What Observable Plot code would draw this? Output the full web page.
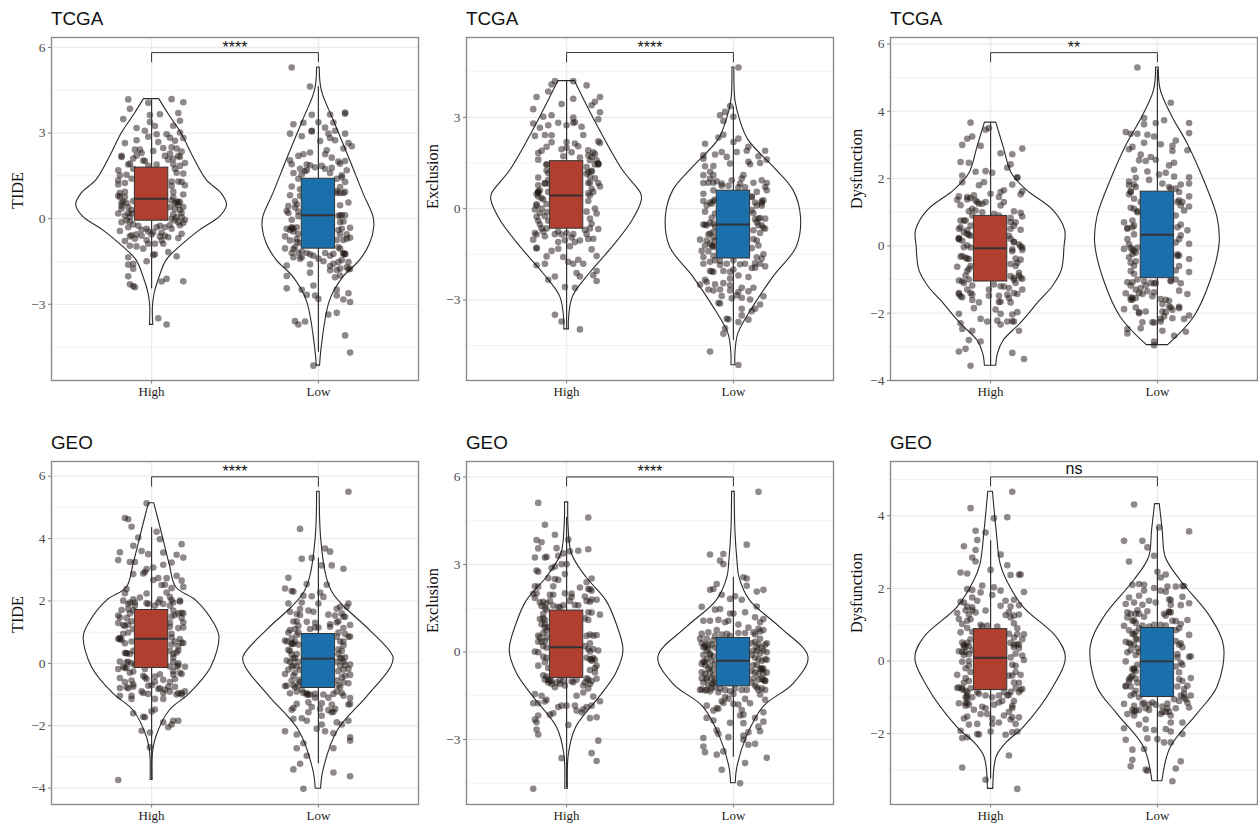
<!DOCTYPE html>
<html><head><meta charset="utf-8">
<style>
html,body{margin:0;padding:0;background:#fff;overflow:hidden}
#page{position:relative;width:1258px;height:829px}
.ttl{position:absolute;font:18.8px/20px "Liberation Sans",Arial,sans-serif;color:#111}
</style>
<script src="https://cdn.jsdelivr.net/npm/d3@7"></script>
<script src="https://cdn.jsdelivr.net/npm/@observablehq/plot@0.6"></script>
</head><body><div id="page"></div>
<script>
const groups = ["High", "Low"];
const fills = {High: "#b03f30", Low: "#1b6fab"};

// jittered points: [offset from the category, value]
const tideTcgaHigh = [[-.14,4.18],[-.13,3.85],[-.17,3.49],[.12,4.19],[.19,4.08],[-.02,4.06],[.16,3.7],[.17,3.43],[.05,3.66],[-.01,3.63],[-.01,3.39],[.02,3.25],[-.09,3.18],[-.04,3.08],[.13,3.26],[-.02,2.87],[.03,2.96],[.09,2.96],[.11,2.84],[.17,3.02],[.19,2.83],[-.09,2.75],[-.16,2.65],[.04,2.69],[.14,2.73],[-.1,2.42],[-.07,2.42],[.07,2.48],[.01,2.37],[.15,2.46],[.11,2.28],[-.18,2.16],[-.18,2.2],[-.09,2.21],[-.11,2.11],[-.04,2.02],[-.05,2.04],[-.13,1.93],[.1,2.07],[.13,1.91],[.17,2.16],[.2,1.95],[-.2,1.7],[-.15,1.54],[-.19,1.52],[-.2,1.35],[-.2,1.2],[.15,1.61],[.19,1.58],[.18,1.29],[.12,1.15],[.2,1.17],[-.19,.9],[-.16,.94],[-.19,.76],[-.16,.76],[-.18,.56],[.13,.94],[.19,.85],[.12,.64],[.15,.58],[.17,.58],[.16,.6],[.14,.35],[.19,.41],[-.14,.41],[-.18,.35],[-.2,.18],[-.12,.18],[-.15,-.06],[-.13,.06],[.12,0],[.15,.06],[.2,-.04],[.17,-.23],[.12,-.35],[.18,-.53],[-.19,-.43],[-.12,-.58],[-.13,-.62],[-.16,-.78],[-.06,-.39],[.01,-.47],[.06,-.49],[.16,-.68],[-.02,-.88],[.02,-.88],[.06,-.76],[-.09,-.97],[-.05,-1.05],[.07,-.88],[.1,-1.17],[-.14,-1.35],[-.03,-1.49],[.02,-1.25],[.01,-1.27],[.15,-1.32],[-.14,-1.61],[-.11,-1.58],[-.11,-1.75],[-.14,-2.02],[.09,-2.11],[.06,-2.2],[.19,-2.19],[-.13,-2.3],[-.1,-2.4],[-.11,-2.36],[.04,-3.49],[.09,-3.71],
 [-.17,.6],[-.15,.55],[-.18,.45],[-.14,.2],[-.16,.1],[-.13,-.1],[-.11,-.2],[-.18,-.12],[-.14,-.3],[-.2,.8],[-.11,.62],[-.12,.3],[-.12,1.4],[-.11,1.75],[-.14,1.9],[-.16,1.25],[.13,.75],[.14,.55],[.16,.48],[.17,.3],[.18,.2],[.11,.4],[.13,.15],[.16,-.12],[.14,-.05],[.18,.05],[.19,-.15],[.11,-.22],[.14,1.75],[.17,1.85],[.12,1.3],[.16,1.3],[.13,2.1],[.16,2.2],[.18,2.35],[.12,2.5],[-.08,-.25],[-.03,-.35],[-.02,-.45],[0,-.55],[.03,-.3],[.05,-.25],[.08,-.3],[-.09,-.55],[-.1,-.7],[.08,-.6],[.1,-.65],[-.06,-.6],[-.03,-.75],[.05,-.62],[-.13,-.95],[-.02,1.85],[.03,1.9],[.08,2.2],[-.06,2.3]];
const tideTcgaLow = [[-.16,5.3],[-.05,4.63],[-.04,3.64],[.16,3.72],[.16,3.68],[.07,3.65],[-.15,3.31],[-.09,3.36],[0,3.38],[.09,3.37],[.04,3.19],[-.04,3.08],[-.04,3.06],[.1,3.08],[-.17,2.98],[-.1,2.89],[.06,2.98],[.16,2.98],[.07,2.83],[.18,2.65],[.2,2.54],[.01,2.72],[.1,2.75],[.15,2.46],[.05,2.4],[.04,2.26],[-.12,2.2],[-.09,2.26],[-.05,2.32],[.08,2.14],[-.17,2.05],[.16,2.02],[.13,1.93],[-.16,1.91],[-.05,1.87],[.02,1.85],[.08,1.78],[-.15,1.6],[-.07,1.7],[-.08,1.67],[.14,1.52],[.16,1.29],[-.16,1.13],[.13,1.11],[-.11,1.03],[.11,.97],[.16,.94],[-.17,.82],[-.14,.61],[.18,.57],[.13,.47],[-.18,.44],[-.14,.39],[-.19,.27],[-.12,.09],[.16,.12],[.13,.12],[-.16,-.04],[.13,-.12],[-.19,-.35],[-.15,-.35],[-.16,-.33],[.19,-.32],[.14,-.35],[-.2,-.62],[-.12,-.53],[.19,-.67],[.17,-.7],[-.17,-.76],[-.13,-.82],[-.2,-1.04],[-.15,-1.06],[.13,-1.05],[-.1,-1.35],[-.05,-1.25],[.09,-1.23],[.16,-1.23],[.15,-1.24],[-.15,-1.35],[.03,-1.49],[.12,-1.52],[.18,-1.52],[-.19,-1.64],[-.05,-1.6],[.07,-1.66],[.09,-1.58],[.13,-1.75],[.19,-1.75],[.18,-1.78],[.07,-1.81],[-.05,-1.89],[.13,-1.99],[-.19,-2.01],[-.03,-2.34],[-.19,-2.44],[-.1,-2.49],[-.07,-2.67],[-.02,-2.69],[0,-2.81],[.11,-2.49],[.11,-2.69],[.18,-2.61],[.15,-2.83],[.19,-2.92],[.11,-3.3],[.06,-3.36],[-.14,-3.59],[-.12,-3.71],[-.08,-3.6],[.16,-4.09],[.19,-4.69],[-.03,-5.15],
 [-.18,.2],[-.16,-.3],[-.17,-.4],[-.15,-.45],[-.13,-.3],[-.12,.25],[-.13,.5],[-.11,.8],[-.12,1.4],[-.11,1.75],[-.13,-.7],[-.11,-.85],[-.14,-1],[-.16,-1.2],[-.12,-1.2],[-.11,-1.4],[-.1,-1.15],[.11,.9],[.13,.9],[.15,.9],[.12,.1],[.14,.12],[.15,-.1],[.12,-.4],[.13,-.55],[.15,-.75],[.17,-.55],[.11,-.75],[.12,-1],[.15,-1.2],[.16,-1.25],[.14,-1.45],[.17,-1.7],[.11,1.4],[.14,1.45],[.17,1.7],[.12,2],[.07,1.6],[.04,1.75],[-.02,1.8],[-.1,1.55],[-.07,1.9],[-.07,-1.2],[-.03,-1.3],[0,-1.4],[.04,-1.2],[.07,-1.3],[.11,-1.8],[.1,-2.05]];
const exclusionTcgaHigh = [[-.07,4.19],[.04,4.19],[-.09,4.08],[.12,4.05],[-.11,3.85],[-.18,3.67],[.2,3.67],[.04,3.61],[.17,3.51],[.15,3.4],[-.03,3.44],[-.2,3.27],[.2,3.17],[-.14,3.02],[-.09,3.07],[.04,2.99],[.19,2.94],[-.2,2.8],[.04,2.82],[.05,2.84],[-.05,2.82],[0,2.74],[-.11,2.74],[.09,2.69],[-.16,2.66],[-.19,2.39],[-.13,2.42],[-.09,2.41],[.1,2.42],[.19,2.21],[-.09,2.18],[0,2.19],[.2,2.16],[.05,2.14],[-.12,2.03],[0,2],[-.15,1.9],[-.17,1.83],[.13,1.92],[.17,1.79],[-.02,1.72],[.08,1.68],[-.17,1.61],[.14,1.59],[.18,1.59],[.19,1.48],[.19,1.45],[-.12,1.45],[.12,1.37],[.15,1.24],[.15,1.22],[-.11,1.17],[-.17,1.02],[.14,1.04],[.19,.84],[.2,.73],[-.13,.82],[-.13,.84],[-.17,.77],[.13,.84],[-.17,.55],[-.17,.52],[-.18,.48],[.14,.44],[.17,0],[-.19,-.03],[-.15,0],[-.18,.14],[.18,-.16],[.14,-.33],[-.18,-.27],[-.12,-.11],[-.16,-.52],[.19,-.67],[.14,-.65],[-.19,-.8],[.12,-.84],[-.07,-.84],[-.2,-1.02],[-.13,-.91],[.04,-.84],[.16,-.99],[-.01,-1.04],[-.18,-1.29],[-.18,-1.31],[.05,-1.1],[-.05,-1.32],[.02,-1.24],[.15,-1.34],[-.09,-1.39],[-.02,-1.59],[.18,-1.56],[-.12,-1.57],[.07,-1.68],[.01,-1.75],[-.13,-1.81],[-.18,-1.86],[.04,-1.81],[.1,-1.81],[.18,-2.05],[.06,-2.12],[.16,-2.19],[-.07,-2.23],[.08,-2.23],[-.11,-2.34],[.18,-2.38],[-.01,-2.58],[.05,-2.6],[-.07,-3.49],[-.03,-3.71],[.08,-3.97],
 [-.18,.1],[-.17,.55],[-.16,.6],[-.17,.4],[-.15,.35],[-.14,.3],[-.12,.15],[-.16,-.15],[-.13,-.25],[-.11,-.4],[-.17,-.4],[-.15,-.65],[-.12,-.65],[-.18,-.85],[-.14,-.75],[-.1,.8],[-.11,.95],[-.12,1.25],[-.12,1.45],[-.11,.55],[.13,.5],[.15,.65],[.14,.85],[.16,.55],[.17,1],[.12,1.15],[.13,1.2],[.17,1.45],[.19,1.47],[.15,1.7],[.13,1.75],[.16,1.85],[.13,.25],[.12,-.1],[.15,-.5],[.11,-.7],[.13,-1],[-.05,-.75],[-.03,-.85],[0,-.8],[.03,-.95],[-.05,-1.1],[.08,-1.05],[.03,1.85],[.07,2.05],[-.03,1.95]];
const exclusionTcgaLow = [[.03,4.64],[-.02,3.37],[-.05,3.18],[-.08,3.07],[0,3.02],[-.06,2.88],[-.06,2.43],[-.09,2.34],[.03,2.3],[0,2.19],[-.17,2.13],[.09,2.03],[.08,1.9],[-.07,1.86],[.02,1.86],[.19,1.9],[-.18,1.75],[-.11,1.78],[-.04,1.7],[.2,1.61],[.15,1.72],[-.18,1.64],[.09,1.54],[.1,1.46],[.16,1.5],[-.17,1.39],[-.12,1.4],[-.02,1.48],[-.14,1.21],[-.18,1.1],[-.12,1.1],[.06,1.1],[-.18,.84],[.05,.99],[.17,.93],[.2,.84],[-.14,.99],[-.07,.82],[-.01,.93],[.04,.82],[.19,.71],[.2,.6],[-.12,.6],[.14,.55],[-.18,.49],[.11,.38],[-.18,.25],[.18,.27],[.17,.25],[-.13,.16],[.17,.19],[.11,-.05],[-.11,-.16],[.16,-.31],[.15,-.33],[.19,-.33],[-.18,-.52],[-.17,-.53],[-.14,-.47],[.19,-.66],[.18,-.63],[.16,-.8],[-.12,-.77],[-.14,-.82],[-.2,-1.02],[.12,-.71],[-.13,-1.21],[-.12,-1.23],[-.17,-1.21],[-.12,-1.26],[-.19,-1.39],[.15,-1.21],[-.18,-1.59],[.18,-1.5],[.17,-1.64],[-.18,-1.81],[-.08,-1.72],[-.04,-1.81],[0,-1.7],[.04,-1.83],[.07,-1.81],[.19,-1.9],[.13,-1.94],[.16,-1.81],[-.14,-2.05],[-.12,-2.08],[-.13,-2.06],[-.02,-2.08],[-.02,-2.3],[-.17,-2.34],[-.2,-2.5],[-.16,-2.41],[-.11,-2.49],[-.02,-2.52],[.12,-2.6],[-.15,-2.66],[-.12,-2.69],[-.08,-2.66],[-.02,-2.69],[.03,-2.74],[.09,-2.72],[-.07,-2.87],[.05,-2.93],[.18,-2.88],[.1,-2.99],[-.09,-3.1],[-.08,-3.12],[.16,-3.15],[.13,-3.29],[.11,-3.37],[.05,-3.29],[-.04,-3.62],[-.03,-3.64],[.05,-3.51],[.09,-3.65],[.03,-3.73],[-.05,-3.93],[-.06,-4.11],[-.14,-4.7],[.03,-5.14],
 [-.16,.1],[-.14,.2],[-.12,.25],[-.17,-.1],[-.13,-.3],[-.16,-.55],[-.12,-.5],[-.11,-.6],[-.15,-.85],[-.12,-.95],[-.16,-1.05],[-.14,-1.15],[-.11,-1.05],[-.15,-1.4],[-.12,-1.55],[-.14,-1.75],[-.11,-1.7],[-.12,.85],[-.1,.9],[-.11,.3],[-.15,.85],[.11,.4],[.13,.2],[.14,.1],[.17,.1],[.12,-.15],[.13,-.35],[.14,-.45],[.15,-.55],[.17,-.55],[.12,-1],[.14,-1.05],[.11,-1.3],[.14,-1.6],[.13,-1.8],[.11,-1.95],[.09,-2.25],[.12,.85],[-.07,.75],[-.03,.75],[.03,.7],[.07,.7],[-.08,-1.85],[-.06,-2.05],[0,-2],[.03,-2.2],[-.06,-2.45],[.05,-2.6],[.02,-2.85],[-.01,-2.95]];
const dysfunctionTcgaHigh = [[-.12,3.66],[-.14,3.18],[-.11,3.25],[-.03,3.45],[-.01,3.5],[-.17,3],[-.06,2.97],[.19,2.89],[.06,2.75],[.13,2.72],[-.18,2.49],[-.13,2.47],[.12,2.42],[.1,2.32],[-.17,2.09],[-.09,2.2],[-.03,2.22],[.01,2.17],[.16,2.04],[.16,2.02],[-.17,1.89],[-.04,1.89],[-.07,1.8],[.13,1.82],[.08,1.65],[.06,1.6],[.19,1.62],[.18,1.53],[0,1.55],[-.1,1.5],[-.14,1.45],[-.19,1.47],[-.2,1.37],[-.09,1.35],[.05,1.45],[-.18,1.21],[-.03,1.3],[-.07,1.25],[.06,1.2],[-.13,1.03],[-.09,1.05],[.14,1.03],[.18,.98],[.19,.87],[-.18,.75],[-.16,.75],[.12,.83],[.15,.7],[-.19,.51],[-.14,.46],[-.13,.33],[.18,.48],[.12,.51],[-.19,.21],[-.19,.23],[.12,.21],[.14,.11],[-.16,-.04],[.18,-.01],[.19,-.12],[.13,-.16],[-.18,-.32],[-.13,-.39],[-.14,-.38],[.18,-.41],[-.2,-.62],[.12,-.54],[.15,-.6],[-.13,-.68],[-.15,-.88],[.17,-.88],[.19,-.98],[-.19,-1.03],[-.17,-1.05],[-.11,-1.18],[.14,-1.01],[.08,-1.21],[.19,-1.3],[.16,-1.43],[-.19,-1.43],[-.11,-1.45],[-.01,-1.48],[.05,-1.48],[-.17,-1.53],[.11,-1.55],[-.11,-1.61],[.06,-1.66],[.05,-1.67],[-.07,-1.68],[.12,-1.68],[-.1,-1.85],[.03,-1.89],[.16,-1.97],[-.19,-2.02],[.13,-2.04],[.06,-2.02],[-.06,-2.17],[.04,-2.22],[-.02,-2.25],[-.18,-2.3],[.1,-2.25],[.14,-2.25],[.13,-2.24],[.06,-2.34],[-.17,-2.47],[-.11,-2.52],[.17,-2.52],[-.13,-2.8],[-.06,-2.84],[-.15,-3.06],[-.19,-3.14],[.13,-3.18],[.2,-3.36],[-.12,-3.56],
 [-.18,.55],[-.16,.4],[-.14,.35],[-.12,.3],[-.19,.2],[-.17,.15],[-.15,.75],[-.14,.02],[-.12,-.05],[-.17,-.3],[-.15,-.35],[-.12,-.6],[-.14,-.75],[-.13,-1],[-.16,-1.1],[-.19,-1.4],[-.18,-1.5],[-.14,-1.3],[-.12,-1.4],[-.11,.9],[-.12,.6],[-.14,1.38],[-.12,1.42],[-.08,1.3],[-.05,1.25],[-.11,1.1],[.12,.7],[.14,.6],[.11,.3],[.14,.12],[.17,.05],[.19,-.05],[.13,-.1],[.15,-.38],[.16,-.5],[.17,-.8],[.12,-.9],[.14,-.95],[.18,-.95],[.11,-1.25],[.15,-1.1],[.1,-1.45],[.14,-1.4],[.02,.95],[.05,.9],[-.05,1],[.06,-1.2],[.02,-1.15],[-.01,-1.3],[.08,1.3]];
const dysfunctionTcgaLow = [[-.12,5.3],[.08,4.25],[-.08,3.8],[-.01,3.65],[.04,3.73],[.19,3.65],[-.08,3.61],[-.19,3.38],[-.16,3.33],[-.12,3.33],[.19,3.35],[-.06,3.3],[-.02,3.25],[.11,3.13],[-.08,3.06],[.02,3.02],[.09,2.97],[-.15,2.94],[-.17,2.87],[.18,2.84],[.09,2.82],[-.1,2.71],[-.04,2.64],[-.01,2.56],[-.11,2.54],[-.07,2.52],[.1,2.47],[.07,2.39],[-.14,2.26],[-.06,2.21],[.01,2.12],[.05,2.17],[.19,2.04],[-.13,2.02],[.1,2.06],[-.17,1.91],[-.05,1.96],[.03,1.85],[.19,1.85],[-.14,1.82],[.07,1.75],[.14,1.82],[-.16,1.62],[-.17,1.53],[.19,1.47],[.13,1.35],[.14,1.2],[-.16,1.13],[.19,1.17],[-.12,1.03],[.16,1.05],[-.15,.75],[-.2,.7],[.14,.63],[-.18,.51],[-.18,.53],[.18,.46],[-.14,.34],[.14,.31],[.19,.06],[-.2,-.09],[-.16,-.06],[-.15,-.24],[-.17,-.34],[.13,-.29],[.12,-.3],[.19,-.39],[-.13,-.46],[-.14,-.59],[.11,-.73],[.19,-.78],[-.14,-.83],[.08,-1.03],[-.18,-1.08],[-.15,-1.08],[.14,-1.11],[-.01,-1.1],[-.02,-1.12],[-.07,-1.18],[-.16,-1.18],[-.02,-1.38],[-.19,-1.41],[-.09,-1.43],[.18,-1.43],[.13,-1.33],[-.16,-1.53],[-.15,-1.55],[.02,-1.58],[.07,-1.63],[.08,-1.83],[.03,-1.73],[-.2,-1.88],[-.13,-1.83],[.13,-1.81],[-.11,-1.97],[.05,-1.97],[.19,-2.07],[.02,-2.17],[.09,-2.15],[-.09,-2.27],[-.03,-2.27],[-.02,-2.28],[.16,-2.17],[-.18,-2.47],[.03,-2.52],[-.18,-2.6],[.17,-2.55],[-.1,-2.45],[.1,-2.67],[-.02,-2.84],[-.02,-2.95],
 [-.18,.2],[-.15,.55],[-.14,.6],[-.17,.05],[-.15,-.1],[-.13,-.2],[-.16,-.5],[-.12,-.05],[-.14,-.15],[-.16,-.75],[-.12,-1],[-.11,-1.4],[-.13,-1.3],[-.16,-1.6],[-.15,-1.6],[-.13,-1.55],[-.14,1.4],[-.16,1.6],[-.17,1.8],[-.13,1.75],[-.14,1.1],[-.12,1],[-.1,1.3],[.11,1.7],[.08,1.7],[.13,1.6],[.12,1.3],[.15,1.3],[.11,.9],[.12,.55],[.13,.2],[.11,.1],[.12,-.25],[.13,-.6],[.11,-1],[.08,-1.05],[.05,-1.6],[.07,-1.8],[.03,-1.95],[.09,-1.9],[.02,-2.25],[.04,-2.1],[.13,-1.85],[-.08,-1.05],[-.04,-1.1],[-.1,-1.25],[-.06,-1.35],[-.03,-1.5],[-.07,-1.95],[-.11,-2]];
const tideGeoHigh = [[-.03,5.13],[-.16,4.66],[-.14,4.62],[-.12,4.38],[.03,4.22],[-.08,4.03],[.05,3.98],[-.11,3.77],[.18,3.82],[-.06,3.6],[-.19,3.56],[-.02,3.5],[.07,3.55],[.15,3.48],[.19,3.39],[-.2,3.31],[-.13,3.25],[-.1,3.25],[.12,3.23],[.07,3.16],[.01,3.07],[-.03,3.02],[-.11,2.86],[-.05,2.88],[-.04,2.93],[.04,2.73],[.09,2.73],[.15,2.81],[.01,2.67],[.18,2.65],[.06,2.51],[.08,2.52],[.12,2.41],[.19,2.45],[-.15,2.38],[-.16,2.25],[.09,2.27],[-.03,2.24],[-.07,2.11],[.11,2.13],[.12,2.03],[.17,2.01],[.17,1.98],[-.17,2.01],[-.13,1.95],[-.1,1.95],[-.03,1.93],[.04,1.95],[-.14,1.74],[-.18,1.71],[.13,1.69],[.19,1.6],[.18,1.62],[-.2,1.53],[-.19,1.47],[.18,1.45],[.19,1.31],[-.2,1.29],[-.17,1.23],[-.14,1.24],[.16,1.13],[.19,1.15],[.11,1.17],[-.14,.99],[-.2,.78],[-.19,.8],[.12,.83],[.17,.78],[-.16,.64],[.19,.65],[.18,.66],[.16,.41],[-.15,.32],[-.16,.33],[.13,.19],[-.19,.06],[-.15,.03],[.16,-.07],[-.17,-.11],[.2,-.11],[-.2,-.18],[-.16,-.15],[-.04,-.18],[-.11,-.26],[.18,-.34],[.13,-.36],[-.19,-.47],[-.04,-.45],[.02,-.42],[.07,-.53],[-.11,-.68],[-.15,-.77],[-.19,-.79],[.04,-.82],[.2,-.9],[.18,-.95],[-.06,-.9],[.11,-.9],[-.02,-.98],[.15,-1],[.18,-1],[-.12,-1.04],[-.19,-1.04],[.07,-1.14],[-.12,-1.14],[.02,-1.14],[.02,-1.48],[0,-1.54],[-.11,-1.6],[-.05,-1.71],[-.04,-1.73],[.16,-1.84],[.13,-1.84],[.07,-1.89],[.12,-1.96],[.1,-2.05],[-.06,-2.16],[-.01,-2.22],[-.01,-2.69],[-.2,-3.74],
 [-.19,.8],[-.18,.75],[-.17,.95],[-.16,1.2],[-.15,1.45],[-.13,1.6],[-.12,1.35],[-.11,1.1],[-.13,.3],[-.15,.33],[-.14,.05],[-.12,0],[-.11,.4],[-.12,.7],[-.15,-.15],[-.13,-.3],[-.1,-.05],[-.12,-.55],[-.11,-.75],[-.14,-.8],[-.16,-.6],[-.11,1.7],[-.1,1.85],[-.14,1.9],[-.11,2.05],[.11,1.85],[.13,1.95],[.12,1.5],[.14,1.55],[.16,1.6],[.11,1.3],[.12,.95],[.14,.7],[.12,.6],[.16,.55],[.15,.35],[.11,.4],[.13,.3],[.13,.05],[.16,0],[.11,-.1],[.15,-.1],[.13,-.25],[.17,-.3],[.14,-.5],[.11,-.6],[.1,-.75],[.08,-.85],[.14,-.75],[.16,-.95],[-.05,-.4],[-.03,-.5],[-.02,-.72],[.02,-.6],[.05,-.35],[.05,-.8],[.07,-.95],[-.05,-.95],[0,-.7],[-.02,1.9],[.02,1.85],[.05,2.05],[.07,1.9]];
const tideGeoLow = [[.18,5.5],[-.11,4.31],[.04,3.68],[.07,3.58],[-.1,3.35],[-.04,3.38],[.02,3.14],[.08,3.14],[.15,3.03],[-.18,2.74],[-.2,2.4],[-.07,2.54],[.05,2.52],[-.16,2.32],[-.15,2.3],[.01,2.27],[-.09,2.17],[-.04,2.15],[.03,2.13],[-.1,1.95],[0,1.92],[-.18,1.92],[.18,1.92],[.13,1.81],[.17,1.81],[-.17,1.65],[-.11,1.74],[-.06,1.69],[-.03,1.65],[.1,1.53],[.06,1.56],[.16,1.49],[.15,1.5],[-.13,1.58],[-.15,1.34],[-.07,1.33],[.07,1.17],[.19,1.23],[.11,1.31],[-.02,1.15],[-.17,1.07],[-.14,1.1],[-.12,.99],[.15,1.13],[.12,.99],[.19,.86],[.18,.85],[-.18,.99],[.16,.94],[-.16,.64],[-.2,.73],[-.16,.62],[.15,.57],[-.18,.43],[.13,.17],[.16,.19],[-.19,.09],[-.14,.17],[.19,-.04],[-.15,-.07],[.13,-.07],[.18,-.18],[-.2,-.34],[.19,-.37],[-.15,-.39],[-.12,-.53],[-.19,-.72],[-.2,-.73],[.15,-.61],[.18,-.64],[-.14,-.77],[.13,-.77],[-.17,-.96],[-.07,-1],[-.06,-1.01],[.09,-.98],[.15,-1.04],[-.02,-.98],[.19,-1.11],[.19,-1.3],[.18,-1.32],[-.06,-1.25],[-.13,-1.3],[.02,-1.28],[.08,-1.32],[-.15,-1.43],[.01,-1.46],[.1,-1.46],[-.16,-1.49],[-.06,-1.57],[.08,-1.57],[-.15,-1.78],[-.1,-1.76],[-.07,-1.84],[.02,-1.68],[.11,-1.89],[.18,-1.84],[.14,-1.96],[.02,-1.96],[-.01,-2.1],[-.2,-2.18],[.04,-2.18],[.09,-2.24],[-.13,-2.28],[.19,-2.37],[.19,-2.48],[-.09,-2.56],[-.13,-2.72],[.09,-2.72],[-.07,-2.96],[-.11,-3.22],[-.15,-3.4],[.09,-3.5],[.19,-3.62],[-.09,-4.02],
 [-.19,.7],[-.16,.8],[-.15,.62],[-.14,.7],[-.13,.9],[-.12,.6],[-.17,.4],[-.16,.28],[-.13,.3],[-.15,.15],[-.17,.05],[-.12,.05],[-.16,-.1],[-.13,-.1],[-.18,-.2],[-.14,-.3],[-.11,-.2],[-.16,-.55],[-.15,-.7],[-.12,-.7],[-.11,-.6],[-.13,-.9],[-.1,-.85],[-.12,1.2],[-.11,1.55],[-.13,1.35],[.11,.85],[.13,.7],[.15,.7],[.12,.45],[.14,.4],[.12,.3],[.14,.15],[.11,.05],[.15,.05],[.16,-.05],[.12,-.25],[.15,-.2],[.14,-.45],[.16,-.4],[.11,-.55],[.12,-.7],[.14,-.95],[.11,-.9],[.12,1.35],[.14,1.6],[.11,1.75],[-.09,-.95],[-.07,-.95],[-.05,-1],[-.02,-1.1],[.03,-1],[.06,-1.1],[.06,-1.5],[.09,-1.55],[-.04,-1.4],[.07,1.25],[-.02,1.3],[-.05,1.1],[0,1.15]];
const exclusionGeoHigh = [[-.17,5.11],[.13,4.61],[-.13,4.36],[-.07,4.02],[-.18,3.84],[-.15,3.76],[.01,3.85],[-.17,3.55],[-.06,3.56],[.13,3.52],[.02,3.45],[.07,3.47],[-.02,3.38],[-.05,3.3],[-.19,3.24],[-.13,3.24],[-.12,3.26],[-.03,3.01],[0,3.01],[-.07,2.93],[-.09,2.88],[-.18,2.79],[-.17,2.75],[-.01,2.67],[-.07,2.5],[-.05,2.47],[.15,2.52],[-.11,2.53],[.12,2.39],[-.08,2.25],[-.19,2.25],[-.17,2.24],[.08,2.21],[-.2,1.99],[.13,2.16],[.15,2.1],[-.18,2.01],[-.01,2.01],[-.08,1.96],[-.1,1.96],[.03,1.89],[-.19,1.85],[.18,1.79],[.14,1.72],[-.14,1.72],[-.12,1.67],[-.08,1.59],[.05,1.61],[-.15,1.58],[-.04,1.53],[-.13,1.51],[-.14,1.3],[.2,1.28],[.13,1.36],[-.16,1.13],[-.13,.84],[-.12,.73],[-.17,.56],[.18,.58],[.16,.56],[-.13,.37],[.14,.3],[-.19,.01],[-.17,-.01],[.19,.05],[.14,.02],[-.14,-.16],[.16,-.21],[.17,-.27],[.15,-.25],[-.17,-.47],[.14,-.62],[.18,-.47],[.17,-.7],[.18,-.92],[-.12,-.84],[-.1,-.98],[-.09,-1.1],[-.04,-1.1],[.04,-1.04],[.1,-1.15],[-.07,-1.21],[-.01,-1.15],[.1,-1.39],[-.19,-1.44],[-.15,-1.5],[.06,-1.5],[.16,-1.53],[-.12,-1.64],[-.2,-1.76],[-.17,-1.76],[-.13,-1.7],[.2,-1.69],[-.03,-1.84],[0,-1.84],[.05,-1.84],[-.05,-1.89],[.15,-1.84],[.12,-1.89],[.1,-1.97],[.06,-2.01],[.09,-2.07],[-.08,-2.1],[-.1,-2.15],[-.17,-2.18],[-.19,-2.32],[.14,-2.27],[.18,-2.24],[-.18,-2.41],[.01,-2.5],[-.18,-2.66],[-.17,-2.83],[.19,-3.04],[.15,-3.47],[-.03,-3.64],[.18,-3.74],[-.2,-4.69],
 [-.16,.5],[-.15,.35],[-.13,.95],[-.13,1.1],[-.15,.95],[-.14,.65],[-.12,.5],[-.14,.2],[-.12,.15],[-.12,-.2],[-.11,.85],[-.12,1.45],[-.1,1.75],[-.16,1.7],[-.14,-.8],[-.13,-.95],[-.11,-.95],[-.11,-1.05],[-.09,-1],[-.14,1.15],[-.17,.35],[-.13,-.35],[-.11,-.55],[.12,.55],[.14,.6],[.11,.2],[.13,.1],[.16,.1],[.12,-.2],[.15,-.3],[.14,-.25],[.17,-.55],[.13,-.95],[.15,-1],[.12,-.9],[.11,-1.05],[.14,-1.1],[.13,-1.25],[.11,1.15],[.13,1.1],[.15,1.35],[.12,1.75],[.15,1.8],[.14,2.15],[.11,1.9],[-.06,-1.05],[-.04,-.95],[-.02,-1],[.03,-1],[.06,-.95],[-.05,1.55],[-.02,1.6],[.02,1.75],[.07,1.6],[.03,2]];
const exclusionGeoLow = [[.15,5.49],[.08,3.68],[-.14,3.34],[-.06,3.36],[-.08,3.13],[-.06,3.01],[.06,2.56],[.08,2.52],[-.1,2.33],[.08,2.27],[-.14,2.13],[-.12,2.16],[.18,2.13],[.14,2.07],[-.07,1.96],[-.02,1.82],[.01,1.91],[.05,1.79],[-.19,1.55],[-.11,1.45],[-.08,1.47],[.14,1.56],[.07,1.36],[-.02,1.32],[0,1.32],[.13,1.19],[.18,1.13],[-.18,1.07],[-.14,1.07],[-.09,1.1],[-.05,1.02],[-.03,1.07],[.16,1.02],[.03,.94],[.09,.84],[.15,.79],[-.1,.75],[-.15,.67],[-.19,.62],[-.04,.62],[.12,.67],[-.2,.45],[-.16,.45],[.16,.45],[.2,.3],[-.15,.25],[-.18,.16],[-.17,.18],[.14,.16],[.2,-.01],[-.14,-.07],[-.17,-.35],[-.18,-.33],[.2,-.27],[-.19,-.7],[-.15,-.58],[.16,-.58],[.18,-.58],[.17,-.6],[-.16,-.89],[.19,-.98],[.17,-.92],[.18,-.96],[-.2,-1.3],[-.17,-1.32],[-.19,-1.28],[-.13,-1.1],[-.14,-1.35],[.14,-1.21],[.16,-1.46],[-.09,-1.38],[-.05,-1.55],[0,-1.44],[.19,-1.64],[.07,-1.61],[.1,-1.76],[-.07,-1.69],[0,-1.78],[-.16,-1.84],[-.1,-1.92],[.05,-1.99],[-.12,-2.01],[.18,-2.07],[.04,-2.18],[.06,-2.15],[-.16,-2.26],[.13,-2.26],[-.02,-2.43],[.06,-2.44],[-.12,-2.35],[.18,-2.39],[.15,-2.56],[-.1,-2.69],[.16,-2.72],[.09,-2.75],[.06,-2.87],[-.03,-2.92],[-.18,-2.95],[-.09,-2.81],[.06,-3.01],[.13,-3.15],[-.18,-3.24],[.09,-3.18],[-.17,-3.44],[-.1,-3.52],[-.06,-3.41],[.2,-3.63],[.07,-3.81],[-.07,-4.04],[.04,-4.5],
 [-.19,.3],[-.17,.25],[-.15,.1],[-.13,.25],[-.12,.4],[-.16,.05],[-.18,-.1],[-.14,-.1],[-.11,.15],[-.16,-.25],[-.13,-.3],[-.12,-.15],[-.19,-.4],[-.17,-.45],[-.11,-.4],[-.14,-.5],[-.12,-.6],[-.17,-.75],[-.14,-.7],[-.12,-.8],[-.19,-.9],[-.16,-.95],[-.13,-.9],[-.11,-1],[-.18,-1.05],[-.15,-1.15],[-.12,-1.05],[-.16,-1.3],[-.13,-1.25],[-.11,-1.2],[-.11,.55],[.11,.3],[.13,.35],[.15,.25],[.17,.15],[.19,.25],[.12,.05],[.14,.03],[.16,-.05],[.18,.05],[.11,-.1],[.13,-.2],[.15,-.25],[.17,-.3],[.19,-.25],[.12,-.45],[.14,-.45],[.17,-.55],[.11,-.65],[.13,-.7],[.15,-.75],[.18,-.75],[.2,-.7],[.12,-.9],[.15,-.95],[.19,-1],[.11,-1.05],[.13,-1.15],[.17,-1.25],[.19,-1.3],[.15,-1.3],[.13,.6],[.16,.7],[.18,.75],[-.08,-1.25],[-.05,-1.3],[-.02,-1.35],[.01,-1.25],[.05,-1.3],[.08,-1.3],[-.07,.6],[-.02,.55],[.03,.65],[.07,.65],[-.06,-1.75],[-.03,-1.6],[.03,-1.8],[-.09,-1.95]];
const dysfunctionGeoHigh = [[.13,4.66],[-.12,4.21],[.02,3.93],[.1,3.96],[-.09,3.59],[-.03,3.54],[-.08,3.33],[-.16,3.16],[-.09,3.06],[.06,2.93],[-.11,2.85],[-.09,2.74],[.1,2.64],[0,2.51],[-.18,2.44],[-.14,2.41],[.12,2.37],[.17,2.38],[.18,2.38],[-.05,2.08],[.02,2.03],[.06,1.94],[-.14,1.98],[-.11,1.96],[.2,1.9],[-.06,1.89],[.01,1.82],[-.16,1.61],[-.18,1.63],[.14,1.69],[.09,1.66],[-.08,1.66],[-.11,1.75],[.17,1.54],[.06,1.52],[-.03,1.39],[-.11,1.48],[-.09,1.34],[-.2,1.32],[-.13,1.28],[.09,1.27],[.12,1.2],[.17,1.28],[-.19,1.16],[-.14,1.11],[-.17,1.02],[-.14,.91],[.14,1.04],[-.06,1],[.16,.74],[.2,.74],[-.18,.79],[.14,.65],[-.17,.51],[-.15,.39],[-.16,.4],[.16,.47],[.17,.45],[-.19,.27],[.14,.38],[-.13,.19],[.19,.15],[.2,.03],[-.16,.17],[-.17,-.02],[.15,-.13],[-.13,-.13],[-.2,-.38],[.18,-.38],[-.15,-.47],[-.2,-.74],[-.19,-.72],[.14,-.59],[-.17,-.75],[.19,-.77],[.18,-.79],[-.14,-.86],[.17,-.86],[-.15,-1],[-.14,-1.02],[-.08,-.86],[.08,-.86],[-.14,-1.14],[-.15,-1.16],[-.19,-1.16],[.05,-1.14],[.11,-.93],[.13,-1.23],[-.15,-1.23],[.13,-1.29],[-.05,-1.26],[-.1,-1.34],[-.02,-1.46],[-.06,-1.46],[.08,-1.5],[-.14,-1.53],[-.16,-1.58],[.17,-1.55],[.01,-1.58],[.12,-1.61],[-.08,-1.73],[-.13,-1.75],[.05,-1.69],[.01,-1.73],[.15,-1.73],[0,-1.94],[-.18,-1.92],[.16,-1.94],[.13,-1.96],[-.08,-2.01],[-.07,-2.02],[.09,-2.03],[-.17,-2.12],[-.14,-2.1],[.11,-2.6],[-.17,-2.93],[-.03,-3.27],[.16,-3.52],
 [-.16,.45],[-.14,.5],[-.13,.42],[-.17,.25],[-.15,.25],[-.12,.6],[-.11,.3],[-.13,0],[-.15,-.2],[-.12,-.3],[-.16,-.6],[-.13,-.55],[-.17,-.78],[-.15,-.82],[-.12,-.75],[-.14,-.95],[-.13,-1.2],[-.11,-1],[-.11,.8],[-.12,1.15],[-.11,1.4],[-.14,1.5],[-.15,1.4],[.11,.75],[.12,.5],[.14,.45],[.17,.35],[.15,.2],[.12,.1],[.13,-.1],[.15,-.3],[.11,-.4],[.13,-.4],[.17,-.6],[.15,-.75],[.12,-.85],[.1,-.95],[.14,-1.1],[.11,-1.4],[.13,-1.55],[.14,1.25],[.12,1.5],[.11,1.35],[.16,.9],[.19,.6],[-.07,-.9],[-.03,-.95],[.01,-1],[.05,-.95],[-.05,.95],[-.02,.98],[.04,.95],[-.03,-1.3],[.02,-1.2],[.07,-1.1]];
const dysfunctionGeoLow = [[-.14,4.31],[.01,3.68],[.19,3.57],[-.2,3.31],[-.09,3.31],[-.06,3.13],[-.02,2.9],[-.17,2.74],[0,2.46],[.02,2.3],[.05,2.38],[-.15,2.1],[-.11,2.12],[-.08,2.1],[-.02,2.01],[.11,2.05],[.15,2.07],[.16,2.06],[-.08,1.94],[.02,1.94],[.05,1.91],[-.17,1.75],[.15,1.77],[-.14,1.61],[-.05,1.66],[-.01,1.61],[.08,1.68],[.19,1.59],[.14,1.54],[-.19,1.57],[-.09,1.55],[-.12,1.4],[-.18,1.34],[-.06,1.37],[.07,1.36],[.08,1.34],[-.18,1.2],[-.08,1.22],[.05,1.25],[.18,1.13],[-.15,1.11],[-.14,1.12],[.09,1.11],[-.2,.97],[.14,1.02],[-.17,.85],[.19,.72],[-.14,.74],[-.13,.61],[-.12,.6],[.14,.49],[-.19,.53],[.15,.38],[-.16,.47],[-.18,.24],[-.13,.17],[.2,.13],[.19,.12],[.12,.19],[-.19,-.01],[.15,-.1],[-.15,-.22],[-.14,-.24],[.13,-.31],[-.16,-.45],[.2,-.47],[-.19,-.68],[-.17,-.56],[.18,-.68],[-.13,-.82],[.16,-.77],[-.16,-.95],[.2,-.95],[.16,-1],[.1,-1.05],[-.2,-1.18],[-.09,-1.18],[-.14,-1.23],[-.03,-1.14],[.06,-1.17],[.19,-1.28],[-.05,-1.35],[-.18,-1.46],[-.13,-1.37],[-.14,-1.39],[.02,-1.46],[.08,-1.5],[-.07,-1.61],[-.11,-1.75],[.08,-1.69],[.15,-1.69],[-.2,-1.85],[-.07,-1.87],[-.02,-1.9],[.05,-1.87],[.08,-1.94],[.15,-2.01],[-.06,-2.13],[-.19,-2.17],[0,-2.15],[.04,-2.24],[.08,-2.24],[-.15,-2.44],[-.08,-2.42],[-.15,-2.72],[.14,-2.76],[-.16,-2.9],[.11,-2.96],[-.07,-2.99],[-.06,-3.02],[.09,-3.31],
 [-.15,.75],[-.13,.8],[-.17,.5],[-.14,.45],[-.12,.35],[-.16,.3],[-.12,-.1],[-.14,-.2],[-.13,-.28],[-.15,-.4],[-.17,-.5],[-.13,-.48],[-.19,-.7],[-.16,-.7],[-.12,-.6],[-.14,-.9],[-.11,-1],[-.15,-1.35],[-.14,-1.5],[-.11,-1.35],[-.11,.25],[-.11,1.3],[-.13,1.05],[-.11,.9],[-.16,1.3],[-.11,1.8],[-.13,1.3],[.11,.85],[.13,.9],[.11,.55],[.13,.45],[.12,.1],[.14,-.05],[.11,-.15],[.13,-.5],[.15,-.55],[.12,-.7],[.14,-.95],[.16,-.9],[.17,-1.05],[.18,-1.15],[.13,-1.1],[.11,-1.3],[.07,-1.4],[.05,-1.4],[.11,1.1],[.08,1.55],[.07,1.7],[.04,1.3],[.07,1.35],[.06,2.05],[-.09,.98],[-.05,.95],[-.02,1],[.02,1],[.05,.98],[-.08,-1.15],[-.05,-1.2],[-.01,-1.2],[.03,-1.25],[-.07,-1.3],[.06,-1.3],[.03,-1.4]];

// violin outlines: [value, half width in category units], top to bottom
const tideTcgaHighViolin = [[4.19,.046],[3.68,.1],[2.98,.18],[2.16,.25],[1.35,.33],[.88,.42],[.47,.452],[.06,.41],[-.41,.29],[-.99,.17],[-1.46,.09],[-2.05,.048],[-2.63,.018],[-3.1,.008],[-3.72,.01]];
const tideTcgaLowViolin = [[5.3,.008],[4.5,.02],[3.33,.1],[2.05,.19],[.88,.27],[.06,.33],[-.29,.335],[-.88,.31],[-1.46,.25],[-2.05,.15],[-2.87,.07],[-4.5,.02],[-5.15,.01]];
const exclusionTcgaHighViolin = [[4.19,.05],[2.8,.178],[1.26,.337],[.49,.447],[.27,.451],[-.38,.397],[-1.26,.277],[-2.14,.138],[-2.9,.038],[-3.67,.014],[-3.97,.014]];
const exclusionTcgaLowViolin = [[4.64,.006],[3.56,.012],[2.91,.04],[2.25,.09],[1.37,.24],[.6,.36],[-.27,.405],[-1.26,.38],[-2.25,.24],[-3.23,.12],[-4.11,.03],[-4.77,.012],[-5.15,.012]];
const dysfunctionTcgaHighViolin = [[3.66,.034],[2.94,.078],[2.14,.128],[1.65,.218],[1.05,.377],[.46,.447],[-.04,.443],[-.73,.427],[-1.23,.37],[-1.63,.297],[-2.32,.178],[-2.82,.078],[-3.21,.044],[-3.56,.034]];
const dysfunctionTcgaLowViolin = [[5.3,.008],[4.62,.02],[3.83,.09],[3.04,.18],[1.94,.28],[.85,.36],[.06,.373],[-1.03,.32],[-2.12,.22],[-2.95,.064]];
const tideGeoHighViolin = [[5.13,.016],[4.25,.058],[3.18,.108],[2.43,.148],[2.01,.267],[1.26,.377],[.83,.407],[-.13,.357],[-.98,.228],[-1.52,.108],[-2.37,.028],[-2.9,.008],[-3.74,.006]];
const tideGeoLowViolin = [[5.5,.008],[4.03,.016],[2.75,.05],[2.22,.09],[1.79,.16],[1.05,.31],[.19,.45],[-.13,.435],[-1.09,.29],[-2.16,.116],[-3.44,.03],[-4.02,.016]];
const exclusionGeoHighViolin = [[5.13,.01],[4.27,.012],[3.36,.032],[2.56,.118],[1.76,.238],[.96,.3],[.05,.341],[-.75,.297],[-1.55,.198],[-2.58,.058],[-3.49,.014],[-4.69,.008]];
const exclusionGeoLowViolin = [[5.49,.008],[4.16,.012],[3.13,.024],[2.56,.036],[1.76,.1],[.84,.28],[-.18,.45],[-1.1,.36],[-1.89,.18],[-2.92,.08],[-3.95,.024],[-4.5,.014]];
const dysfunctionGeoHighViolin = [[4.66,.014],[3.59,.036],[2.67,.06],[2.21,.098],[1.48,.198],[.65,.397],[.1,.451],[-.72,.377],[-1.83,.198],[-2.28,.09],[-2.65,.036],[-3.52,.016]];
const dysfunctionGeoLowViolin = [[4.32,.014],[3.59,.032],[2.85,.05],[2.21,.14],[1.2,.32],[.38,.4],[-.72,.36],[-1.46,.24],[-2.38,.08],[-3.31,.03]];

// box statistics: [lower whisker, q1, median, q3, upper whisker]
const tideTcgaHighBox = [-2.46,-.07,.7,1.79,4.17];
const tideTcgaLowBox = [-4.68,-1.05,.12,1.4,4.62];
const exclusionTcgaHighBox = [-3.97,-.66,.43,1.56,4.19];
const exclusionTcgaLowBox = [-4.33,-1.64,-.52,.59,3.34];
const dysfunctionTcgaHighBox = [-3.56,-1.06,-.07,.89,3.66];
const dysfunctionTcgaLowBox = [-2.95,-.96,.33,1.61,5.25];
const tideGeoHighBox = [-3.75,-.15,.79,1.71,4.35];
const tideGeoLowBox = [-3.22,-.79,.15,.94,3.37];
const exclusionGeoHighBox = [-4.65,-.89,.16,1.42,4.61];
const exclusionGeoLowBox = [-3.61,-1.18,-.3,.48,2.56];
const dysfunctionGeoHighBox = [-3.25,-.8,.09,.88,3.31];
const dysfunctionGeoLowBox = [-3.31,-.99,-.01,.91,3.68];

const panels = [
 {title:"TCGA",label:"TIDE",domain:[-5.67,6.35],major:[-3,0,3,6],minor:[-4.5,-1.5,1.5,4.5],sig:"****",bar:5.82,tip:5.5,left:51,top:37,high:tideTcgaHigh,low:tideTcgaLow,hv:tideTcgaHighViolin,lv:tideTcgaLowViolin,hb:tideTcgaHighBox,lb:tideTcgaLowBox},
 {title:"TCGA",label:"Exclusion",domain:[-5.65,5.625],major:[-3,0,3],minor:[-4.5,-1.5,1.5,4.5],sig:"****",bar:5.13,tip:4.82,left:466,top:37,high:exclusionTcgaHigh,low:exclusionTcgaLow,hv:exclusionTcgaHighViolin,lv:exclusionTcgaLowViolin,hb:exclusionTcgaHighBox,lb:exclusionTcgaLowBox},
 {title:"TCGA",label:"Dysfunction",domain:[-4,6.19],major:[-4,-2,0,2,4,6],minor:[-3,-1,1,3,5],sig:"**",bar:5.74,tip:5.47,left:890,top:37,high:dysfunctionTcgaHigh,low:dysfunctionTcgaLow,hv:dysfunctionTcgaHighViolin,lv:dysfunctionTcgaLowViolin,hb:dysfunctionTcgaHighBox,lb:dysfunctionTcgaLowBox},
 {title:"GEO",label:"TIDE",domain:[-4.525,6.47],major:[-4,-2,0,2,4,6],minor:[-3,-1,1,3,5],sig:"****",bar:5.98,tip:5.68,left:51,top:461,high:tideGeoHigh,low:tideGeoLow,hv:tideGeoHighViolin,lv:tideGeoLowViolin,hb:tideGeoHighBox,lb:tideGeoLowBox},
 {title:"GEO",label:"Exclusion",domain:[-5.23,6.53],major:[-3,0,3,6],minor:[-4.5,-1.5,1.5,4.5],sig:"****",bar:6,tip:5.69,left:466,top:461,high:exclusionGeoHigh,low:exclusionGeoLow,hv:exclusionGeoHighViolin,lv:exclusionGeoLowViolin,hb:exclusionGeoHighBox,lb:exclusionGeoLowBox},
 {title:"GEO",label:"Dysfunction",domain:[-3.95,5.495],major:[-2,0,2,4],minor:[-3,-1,1,3,5],sig:"ns",bar:5.07,tip:4.82,left:890,top:461,high:dysfunctionGeoHigh,low:dysfunctionGeoLow,hv:dysfunctionGeoHighViolin,lv:dysfunctionGeoLowViolin,hb:dysfunctionGeoHighBox,lb:dysfunctionGeoLowBox}
];

const serif = "'Liberation Serif','Times New Roman',serif";
const sans = "'Liberation Sans',Arial,sans-serif";
const page = document.getElementById("page");

for (const p of panels) {
  const pts = [
    ...p.high.map(([d, y]) => ({x: 1 + d, y})),
    ...p.low.map(([d, y]) => ({x: 2 + d, y}))
  ];
  const violins = [[1, p.hv], [2, p.lv]];
  const boxes = [[1, "High", p.hb], [2, "Low", p.lb]].map(([c, g, b]) => ({
    c, g, x1: c - .1, x2: c + .1, lo: b[0], q1: b[1], med: b[2], q3: b[3], hi: b[4]
  }));
  const chart = Plot.plot({
    width: 420, height: 369,
    marginLeft: 51, marginRight: 2, marginTop: 2, marginBottom: 24,
    x: {domain: [.4, 2.6]},
    y: {domain: p.domain},
    style: {position: "absolute", left: (p.left - 51) + "px", top: (p.top - 2) + "px", overflow: "visible", background: "transparent"},
    marks: [
      Plot.ruleY(p.minor, {stroke: "#efefef", strokeWidth: .8}),
      Plot.ruleY(p.major, {stroke: "#ebebeb", strokeWidth: 1.3}),
      Plot.ruleX([1, 2], {stroke: "#ebebeb", strokeWidth: 1.3}),
      ...violins.map(([c, v]) => Plot.areaX(v, {
        y: d => d[0], x1: d => c - d[1], x2: d => c + d[1],
        curve: "catmull-rom", fill: "none", stroke: "#2a2a2a", strokeWidth: 1.1
      })),
      Plot.dot(pts, {x: "x", y: "y", r: 3.3, fill: "#1e1412", fillOpacity: .5, stroke: "none"}),
      Plot.ruleX(boxes, {x: "c", y1: "lo", y2: "hi", stroke: "#333", strokeWidth: 1.2}),
      Plot.rect(boxes, {x1: "x1", x2: "x2", y1: "q1", y2: "q3", fill: d => fills[d.g], stroke: "#333", strokeWidth: 1}),
      Plot.ruleY(boxes, {y: "med", x1: "x1", x2: "x2", stroke: "#333", strokeWidth: 1.9}),
      Plot.line([[1, p.tip], [1, p.bar], [2, p.bar], [2, p.tip]], {stroke: "#333", strokeWidth: 1}),
      Plot.text([p.sig], {x: 1.5, y: p.bar, text: d => d, lineAnchor: "bottom", dy: p.sig === "ns" ? -3 : 0, fontFamily: sans, fontSize: 16, fill: "#111"}),
      Plot.frame({stroke: "#8a8a8a", strokeWidth: 1.4}),
      Plot.axisY({ticks: p.major, tickSize: 3, tickPadding: 3, label: null, stroke: "#7f7f7f", color: "#4d4d4d", fontFamily: serif, fontSize: 13.5}),
      Plot.axisX({ticks: [1, 2], tickFormat: d => groups[d - 1], tickSize: 3.5, tickPadding: 3, label: null, stroke: "#7f7f7f", color: "#222", fontFamily: serif, fontSize: 13}),
      Plot.text([p.label], {frameAnchor: "left", text: d => d, rotate: -90, dx: -34, fontFamily: serif, fontSize: 16.2, fill: "#111"})
    ]
  });
  page.appendChild(chart);
  const t = document.createElement("div");
  t.className = "ttl";
  t.textContent = p.title;
  t.style.left = p.left + "px";
  t.style.top = (p.top - 28) + "px";
  page.appendChild(t);
}
</script></body></html>
